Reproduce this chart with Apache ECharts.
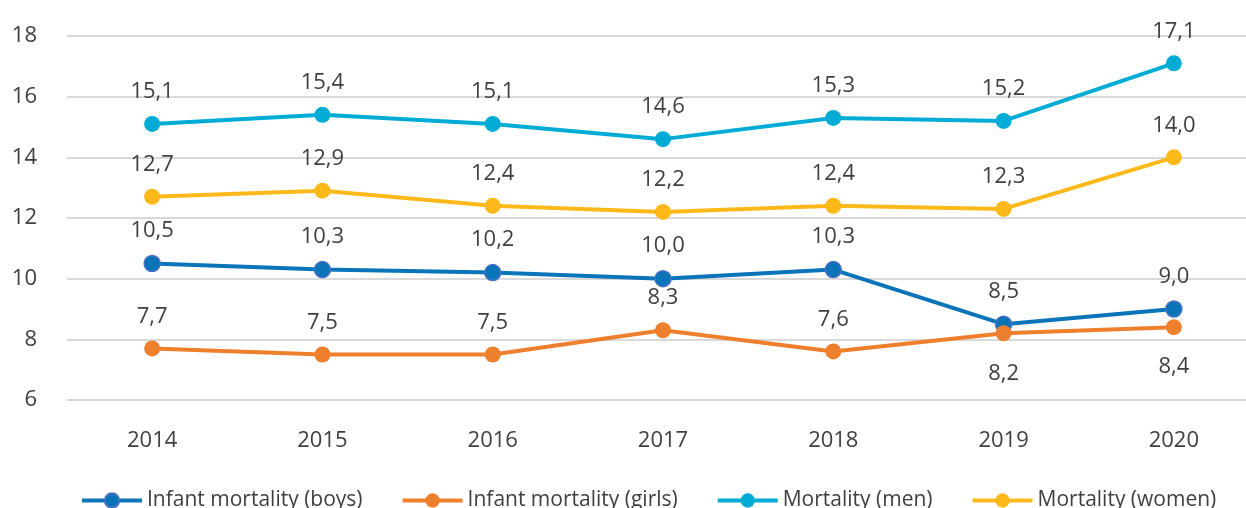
<!DOCTYPE html>
<html>
<head>
<meta charset="utf-8">
<script src="https://cdn.jsdelivr.net/npm/echarts@6/dist/echarts.min.js"></script>
<style>
  html, body { margin: 0; padding: 0; background: #fff; }
  #chart { width: 1246px; height: 508px; }
</style>
</head>
<body>
<div id="chart"></div>
<script>
const years = ['2014', '2015', '2016', '2017', '2018', '2019', '2020'];
const infantBoys = [10.5, 10.3, 10.2, 10.0, 10.3, 8.5, 9.0];
const infantGirls = [7.7, 7.5, 7.5, 8.3, 7.6, 8.2, 8.4];
const mortalityMen = [15.1, 15.4, 15.1, 14.6, 15.3, 15.2, 17.1];
const mortalityWomen = [12.7, 12.9, 12.4, 12.2, 12.4, 12.3, 14.0];

const FONT = '"Open Sans", "Noto Sans", sans-serif';
const TEXT = '#404040';

// which points carry their label under the marker
const belowGirls = [5, 6];

const makeSeries = (name, values, color, border, below) => ({
  name,
  type: 'line',
  data: values.map((v, i) => {
    const item = { value: v };
    if (below && below.includes(i)) {
      item.label = { position: 'bottom', distance: 21 };
    }
    return item;
  }),
  symbol: 'circle',
  symbolSize: 16,
  lineStyle: { width: 4, color },
  itemStyle: { color, borderColor: border, borderWidth: border === color ? 0 : 1.5 },
  label: {
    show: true,
    position: 'top',
    distance: 13,
    color: TEXT,
    fontSize: 22,
    fontFamily: FONT,
    formatter: (p) => p.value.toFixed(1).replace('.', ','),
  },
  emphasis: { disabled: true },
  animation: false,
});

const chart = echarts.init(document.getElementById('chart'));
chart.setOption({
  animation: false,
  grid: { left: 67, top: 36, width: 1192, height: 364, containLabel: false, outerBoundsMode: 'none' },
  legend: {
    top: 485,
    left: 75,
    itemWidth: 60,
    itemHeight: 18,
    itemGap: 38,
    lineStyle: { width: 4 },
    textStyle: { color: TEXT, fontSize: 21, fontFamily: FONT },
    data: ['Infant mortality (boys)', 'Infant mortality (girls)', 'Mortality (men)', 'Mortality (women)'],
  },
  xAxis: {
    type: 'category',
    data: years,
    boundaryGap: true,
    axisLine: { show: false },
    axisTick: { show: false },
    axisLabel: { color: TEXT, fontSize: 22, fontFamily: FONT, margin: 30 },
  },
  yAxis: {
    type: 'value',
    min: 6,
    max: 18,
    interval: 2,
    axisLine: { show: false },
    axisTick: { show: false },
    axisLabel: { color: TEXT, fontSize: 22, fontFamily: FONT, margin: 30 },
    splitLine: { lineStyle: { color: '#d9d9d9', width: 2 } },
  },
  series: [
    makeSeries('Infant mortality (boys)', infantBoys, '#0a74b9', '#4a70c4'),
    makeSeries('Infant mortality (girls)', infantGirls, '#ee7f2d', '#ee7f2d', belowGirls),
    makeSeries('Mortality (men)', mortalityMen, '#00acd6', '#00acd6'),
    makeSeries('Mortality (women)', mortalityWomen, '#fdb81a', '#fdb81a'),
  ],
});
</script>
</body>
</html>
